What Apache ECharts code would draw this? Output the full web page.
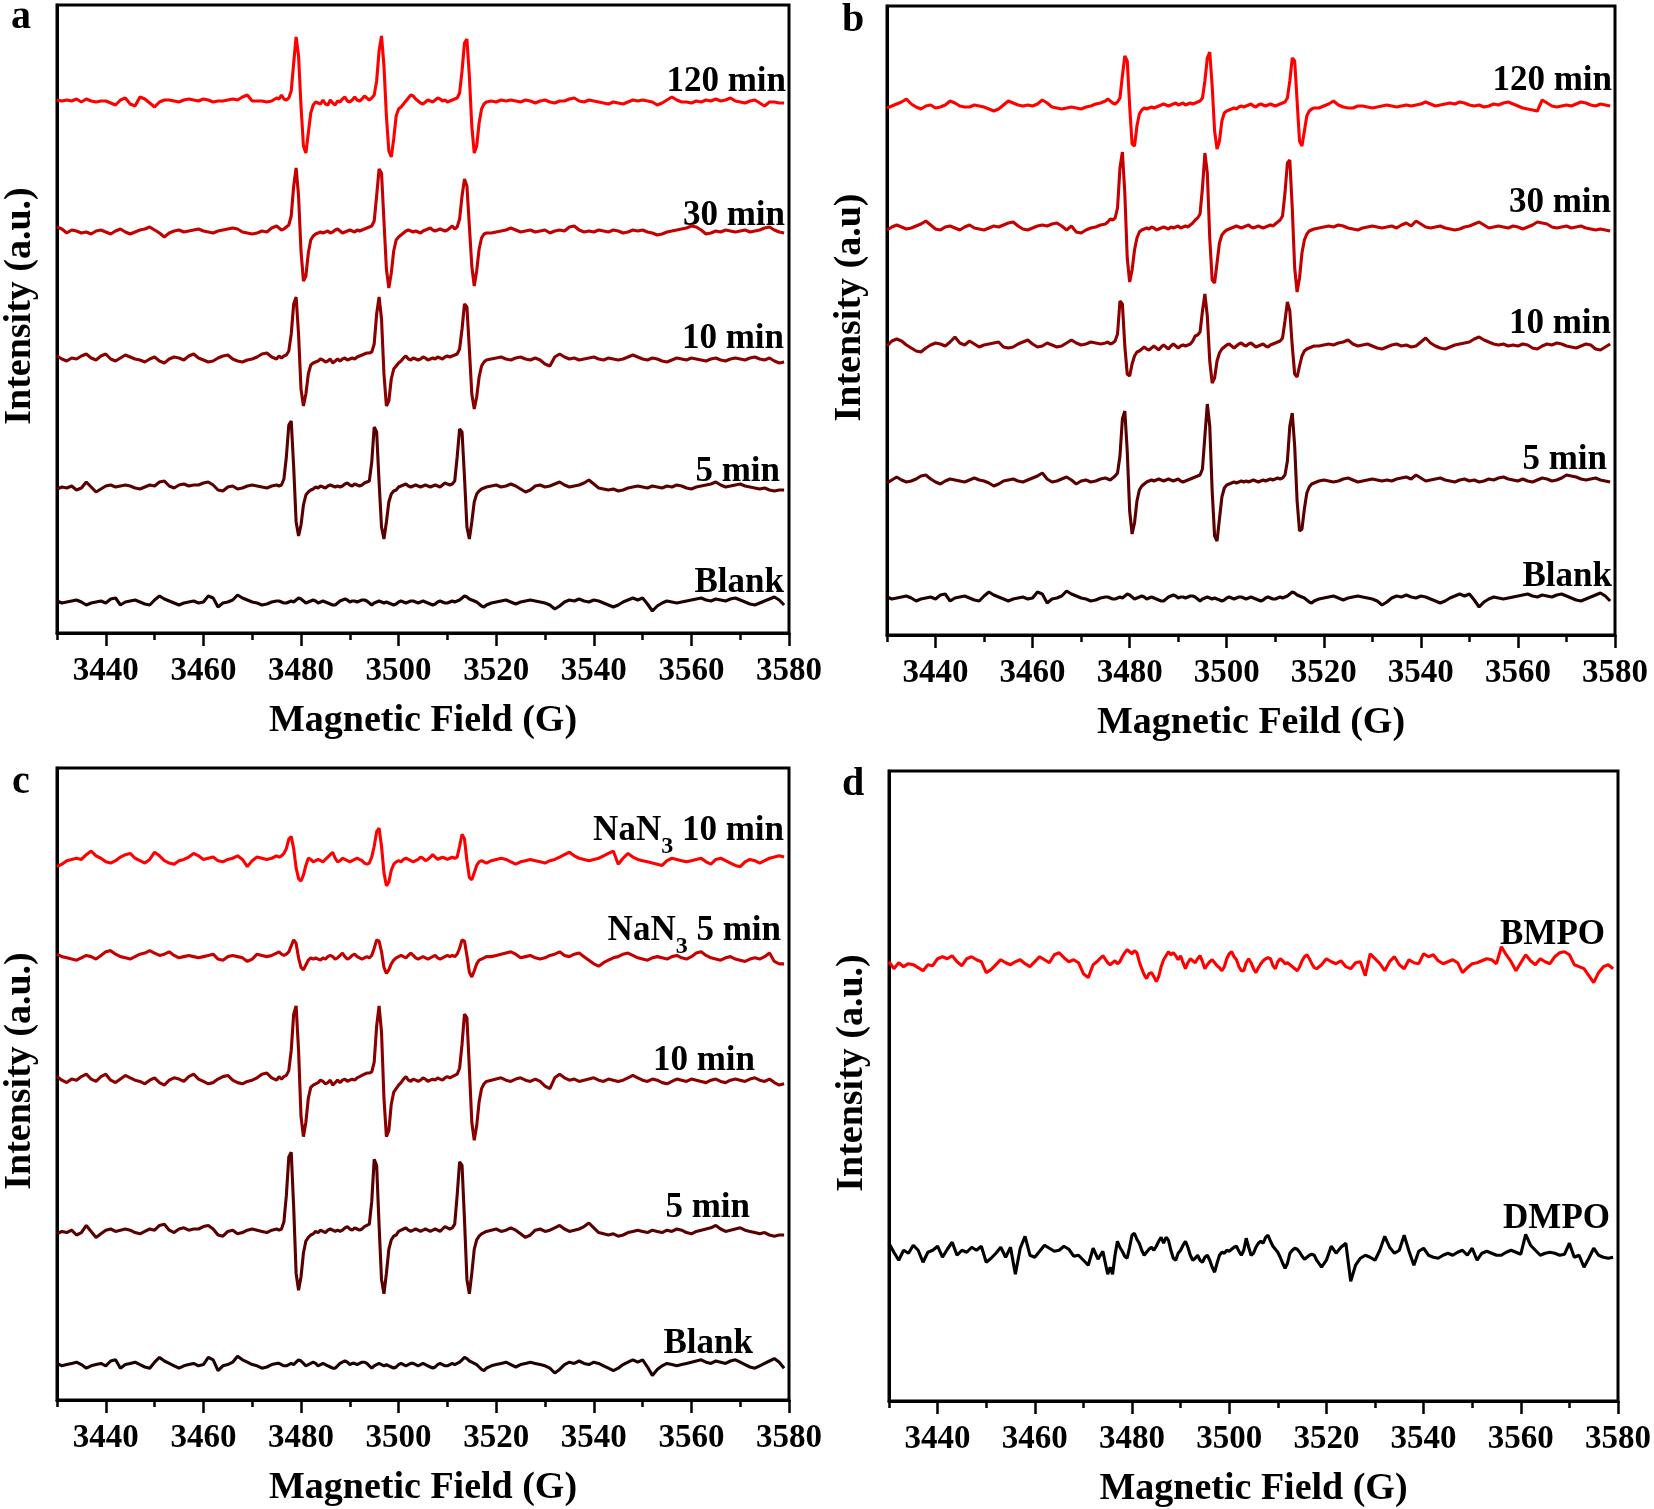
<!DOCTYPE html>
<html><head><meta charset="utf-8">
<script src="https://cdn.jsdelivr.net/npm/echarts@6/dist/echarts.min.js"></script>
<style>html,body{margin:0;padding:0;background:#fff}#chart{width:1654px;height:1509px}</style>
</head><body><div id="chart"></div>
<script>
// ---------- magnetic field sampling (G) ----------
const fieldL = [3430,3431,3432,3433,3434,3435,3436,3437,3438,3439,3440,3441,3442,3443,3444,3445,3446,3447,3448,3449,3450,3451,3452,3453,3454,3455,3456,3457,3458,3459,3460,3461,3462,3463,3464,3465,3466,3467,3468,3469,3470,3471,3472,3473,3474,3475];
const fieldM = [3475.5,3476,3476.5,3477,3477.5,3478,3478.5,3479,3479.5,3480,
 3480.5,3481,3481.5,3482,3482.5,3483,3483.5,3484,3484.5,3485,
 3485.5,3486,3486.5,3487,3487.5,3488,3488.5,3489,3489.5,3490,
 3490.5,3491,3491.5,3492,3492.5,3493,3493.5,3494,3494.5,3495,
 3495.5,3496,3496.5,3497,3497.5,3498,3498.5,3499,3499.5,3500,
 3500.5,3501,3501.5,3502,3502.5,3503,3503.5,3504,3504.5,3505,
 3505.5,3506,3506.5,3507,3507.5,3508,3508.5,3509,3509.5,3510,
 3510.5,3511,3511.5,3512,3512.5,3513,3513.5,3514,3514.5,3515,
 3515.5,3516,3516.5,3517,3517.5,3518];
const fieldR = [3519,3520,3521,3522,3523,3524,3525,3526,3527,3528,3529,3530,3531,3532,3533,3534,3535,3536,3537,3538,3539,3540,3541,3542,3543,3544,3545,3546,3547,3548,3549,3550,3551,3552,3553,3554,3555,3556,3557,3558,3559,3560,3561,3562,3563,3564,3565,3566,3567,3568,3569,3570,3571,3572,3573,3574,3575,3576,3577,3578,3579];

// ---------- tick labels ----------
const majorTicks = [3440,3460,3480,3500,3520,3540,3560,3580];
const minorTicks = [3430,3450,3470,3490,3510,3530,3550,3570];

// ---------- spectra (intensity, a.u., relative to each trace baseline) ----------
// panel a / c shared
const a120L = [1,0,1,0,2,-1,2,0,-1,0, 0,-2,-4,1,3,-3,-5,4,2,-2, -6,-1,1,1,0,-1,1,2,1,0, 2,1,-1,0,0,1,2,1,4,6, 0,0,0,-1,0,3];
const a120M = [2,6,2,1,3,10,38,64,45,-5, -45,-52,-32,-12,-4,-1,-2,-3,1,-3, -4,1,-2,-4,0,-1,2,4,0,-1, 1,4,1,0,2,5,3,1,3,6, 20,50,65,35,-15,-50,-56,-38,-15,-8, -6,-3,0,3,6,5,2,0,-2,-3, -1,1,0,-1,1,3,2,0,1,-1, 0,1,2,3,8,30,58,62,25,-25, -52,-45,-22,-8,-3,-1];
const a120R = [0,-1,1,0,1,0,-1,1,0,-2, 0,1,-1,-2,0,0,2,3,0,-1, 1,0,-1,-2,-3,-1,-2,-3,-1,1, 0,1,0,-1,-4,-2,1,4,1,-1, -1,-2,0,-1,1,0,2,0,1,3, 0,-1,-2,0,1,-2,-5,-1,-1,-2, -2];

const a30L = [4,2,-2,1,0,-2,-1,-3,0,1, -1,-3,0,2,-1,-3,-1,1,2,4, 1,-2,-6,-2,0,1,-1,0,1,2, 0,-1,-2,0,1,2,3,2,-1,-2, -3,-2,0,-1,3,5];
const a30M = [3,1,2,4,6,15,45,63,35,-20, -50,-45,-22,-9,-5,-3,-2,-1,-2,-1, 0,-2,-1,1,2,0,-2,-1,0,1, 0,-1,1,0,1,2,3,4,5,10, 35,62,58,10,-38,-57,-42,-20,-9,-6, -4,-2,0,1,0,-1,0,-1,-2,0, 1,2,3,1,0,1,2,1,0,1, 3,5,2,4,12,35,52,45,5,-35, -55,-40,-18,-7,-3,-2];
const a30R = [-2,-1,0,1,3,1,-1,0,1,-1, 0,1,-2,0,1,0,4,5,1,-1, 0,-1,1,0,-1,1,0,-2,-1,1, 0,1,-1,-2,-4,-3,-1,0,1,2, 3,5,4,1,-3,-2,0,-1,1,0, -1,0,1,-1,0,1,3,4,1,-1, -2];

const a10L = [3,0,-2,1,0,3,5,1,-1,3, 5,0,-2,1,4,2,0,-1,-3,0, 2,-2,-4,0,2,1,-1,3,5,1, -1,-3,-2,1,3,4,0,-2,-3,-1, 0,2,5,6,2,0];
const a10M = [3,1,3,4,8,25,55,62,25,-30, -47,-35,-15,-6,-4,-3,-2,0,-1,-3, -2,0,-4,-2,0,-2,0,1,-1,0, 1,0,2,3,4,5,6,6,7,15, 45,62,40,-15,-47,-42,-20,-10,-7,-4, -2,1,3,0,-1,1,0,-1,0,2, 1,-1,0,1,0,2,1,0,2,3, 2,3,4,5,10,30,55,52,10,-35, -50,-38,-18,-7,-3,-1];
const a10R = [0,1,2,0,-1,1,2,0,-1,1, -1,-5,-7,2,5,2,0,1,-1,0, 1,2,0,-1,1,0,-1,0,2,4, 2,0,-1,1,0,-2,-3,-1,1,0, -1,1,0,-1,-2,0,1,-1,-2,0, 1,0,-1,1,2,0,-1,1,-2,-4, -3];

const a5L = [-2,0,-1,1,-3,-1,5,0,-5,-2, 1,2,0,1,2,1,-1,-2,0,2, 1,5,6,1,-1,2,3,1,2,2, 4,5,2,-3,-4,0,1,-2,-1,1, 2,1,0,-1,1,2];
const a5M = [1,2,8,30,62,66,20,-35,-49,-38, -18,-8,-5,-3,-2,0,-1,1,0,-1, 1,2,1,0,1,0,1,3,4,2, 1,3,2,1,2,4,5,6,25,60, 55,5,-40,-52,-35,-15,-7,-4,-3,0, 1,2,3,1,0,1,2,1,0,1, 2,1,0,1,2,1,0,2,4,3, 2,3,6,30,58,55,10,-40,-52,-35, -15,-7,-4,-2,-1,0];
const a5R = [1,2,0,1,3,1,-2,-5,-3,1, 2,0,1,3,5,2,0,1,2,4, 7,3,-1,-2,-3,-2,-4,-3,-1,0, 1,0,-1,1,0,-1,1,0,2,1, -1,-2,0,1,2,3,5,2,0,1, 2,3,1,0,-1,-2,-1,-3,-4,-3, -3];

const blankL = [1,-1,0,1,2,0,-3,-1,0,1, -1,3,4,-3,0,1,2,0,-2,-3, 2,6,3,1,-1,-3,-1,0,1,-1, 0,6,4,-5,-1,0,2,7,4,2, 0,-1,-3,-2,0,1];
const blankM = [1,0,-1,-1,0,1,0,2,4,3, 1,-1,0,1,2,1,-1,0,1,0, -1,-2,-3,-3,-1,1,2,3,2,0, 1,1,0,1,2,2,1,-1,-3,-1, 0,1,0,-1,0,-1,-2,-3,-2,0, 1,0,-1,0,1,1,0,-1,0,1, 0,-1,-2,-3,-2,0,1,0,-1,-1, 0,1,0,1,2,4,6,5,3,2, 1,0,-2,-4,-5,-3];
const blankR = [-1,0,1,2,0,-2,0,1,2,1, 0,-1,-3,-7,-4,0,2,1,3,1, 0,2,1,-1,-3,-5,-3,0,2,4, 2,4,-2,-9,-4,-1,1,0,-1,0, 1,2,3,4,2,1,3,2,1,3, 4,2,0,-2,-3,-1,1,3,5,2, -3];

// panel b
const b120L = [-2,0,2,4,7,2,-1,-3,0,1, -2,-1,1,5,3,0,-1,-1,1,0, -1,-3,-5,-3,1,5,3,1,0,1, 0,2,6,3,-1,-2,-3,-2,-1,-2, -3,-1,0,2,3,5];
const b120M = [7,5,3,2,4,8,30,50,45,0, -38,-40,-20,-8,-4,-2,-3,-2,-1,-2, -1,0,1,2,1,0,1,2,3,1, 2,3,1,2,3,2,3,4,5,8, 25,48,54,20,-25,-43,-35,-15,-7,-5, -4,-3,-2,-3,-1,0,-1,0,1,2, 0,-1,1,2,1,0,1,2,1,0, 1,2,3,4,8,25,48,45,5,-35, -40,-25,-10,-5,-3,-2];
const b120R = [-2,0,2,5,1,-1,-2,-2,0,0, -1,-2,-1,0,1,0,-1,0,1,0, 1,2,4,2,0,1,2,3,2,4, 3,1,0,1,-1,0,2,1,3,4, 2,0,-2,-3,-4,-5,6,3,0,-1, 0,1,0,2,4,3,1,0,2,1, 0];

const b30L = [-2,1,3,1,-1,0,2,4,7,3, -1,-2,1,2,0,-2,1,3,0,-1, -2,0,2,1,3,5,6,2,-1,-2, 0,2,3,2,4,5,2,-2,2,-4, -5,-2,0,1,3,4];
const b30M = [6,9,8,10,20,60,76,35,-30,-54, -42,-22,-10,-4,-2,-1,0,-1,1,0, -2,-1,0,1,0,-1,1,0,1,2, 0,1,2,1,3,5,8,10,14,40, 75,55,-10,-52,-55,-35,-15,-7,-4,-2, -1,0,1,2,1,0,1,2,3,1, 0,1,2,1,0,1,2,3,2,4, 6,8,12,35,65,68,20,-40,-64,-50, -25,-12,-6,-3,-2,-1];
const b30R = [0,1,2,1,3,2,0,-1,-2,0, 1,2,1,0,1,2,0,3,5,2, 7,4,1,0,1,2,0,-1,-2,-1, 1,2,4,6,3,0,1,2,1,0, 2,1,-1,1,3,6,5,4,1,0, 1,2,0,1,2,0,-1,-2,-1,-2, -3];

const b10L = [0,5,7,5,1,-2,-5,-6,-2,1, 3,2,0,4,9,3,1,5,2,-1, 1,2,3,4,-1,-2,-1,2,4,6, 2,-1,0,3,1,-1,0,3,6,3, 1,2,4,3,2,3];
const b10M = [4,2,3,5,12,45,42,0,-28,-30, -18,-10,-6,-5,-3,-1,-3,-4,-2,0, -2,-4,-1,1,-1,-3,0,2,0,-2, 0,1,0,1,2,5,10,11,14,35, 52,30,-15,-37,-32,-15,-7,-3,-1,1, 2,0,-2,0,2,3,1,0,2,3, 1,-1,0,1,2,0,-1,1,2,3, 4,5,8,25,44,35,0,-28,-31,-20, -10,-5,-3,-2,-1,0];
const b10R = [0,1,2,1,3,4,6,2,0,1, 2,0,-2,-3,-1,1,2,0,1,-1, 0,4,8,3,0,-2,-3,-1,1,2, 3,4,7,9,6,4,2,1,2,0, 1,0,2,1,-2,-3,0,2,1,3, 2,0,-1,-2,0,2,1,-3,-4,-1, 2];

const b5L = [-2,1,4,1,-1,0,2,5,6,2, -1,-3,0,2,1,0,-1,1,3,1, 0,-2,-5,-3,0,1,2,0,-1,1, 3,5,8,2,-1,0,2,4,1,-3, 0,1,-1,0,2,3];
const b5M = [2,1,3,5,8,25,62,70,30,-30, -53,-42,-20,-9,-5,-3,-1,0,1,0, 1,2,1,0,1,2,1,0,1,2, 0,-1,0,1,2,3,4,5,6,12, 45,77,55,-10,-55,-60,-38,-16,-7,-4, -3,-2,-1,-2,-1,0,-1,0,-1,0, 1,0,-1,0,1,0,1,2,1,2, 3,2,3,6,20,55,68,35,-20,-50, -48,-28,-12,-6,-3,-2];
const b5R = [0,1,0,-1,0,2,3,1,-1,0, 1,2,1,0,1,0,2,3,4,2, 6,3,0,1,2,3,1,0,-1,1, 2,0,1,-1,0,2,1,3,4,2, 1,0,2,0,-1,1,3,2,0,1, 3,6,5,4,2,1,2,3,1,0, -1];

// panel c (NaN3 quenched)
const cN10L = [-5,-3,0,1,2,1,5,8,4,2, -1,-2,0,3,5,6,2,0,-2,1, 7,4,0,-2,-3,0,1,3,6,4, 1,2,3,0,-1,1,2,4,1,-5, 0,3,2,1,2,4];
const cN10M = [3,4,6,10,18,20,10,-6,-15,-17, -12,-4,2,1,-1,0,1,0,-1,1, 3,5,7,2,-1,0,2,1,0,-1, 0,1,2,1,0,-2,-3,-2,3,12, 24,27,12,-10,-21,-18,-8,-3,-1,0, -1,1,2,1,0,-1,0,1,3,2, 0,1,3,5,3,1,2,3,2,1, 2,3,2,3,12,22,18,0,-14,-16, -10,-4,-1,0,-1,-2];
const cN10R = [0,1,2,1,-1,-3,-1,0,1,0, -1,-2,0,1,3,5,7,4,2,1, 0,1,2,4,6,8,-3,2,6,3, 1,0,-1,-2,-3,-4,0,2,1,0, -1,0,1,2,-1,-3,1,2,0,-2, -4,-5,-1,1,0,-2,0,2,3,4, 3];

const cN5L = [3,1,0,-1,-2,0,2,1,-1,2, 5,6,3,1,0,-1,1,3,4,6, 4,2,3,5,2,0,1,2,1,0, 1,2,3,-1,-2,1,2,1,0,-3, -1,3,2,1,2,4];
const cN5M = [5,3,2,3,5,10,15,12,0,-8, -10,-6,-2,0,-1,0,-1,-2,0,-1, 1,2,1,-1,0,2,4,1,-1,0, 2,3,1,0,-1,0,1,0,2,8, 15,14,5,-8,-13,-10,-5,-2,0,1, 2,1,0,2,4,2,0,-1,0,1, 0,-1,0,1,2,0,-1,0,1,2, 1,2,1,3,8,15,14,2,-12,-16, -11,-5,-2,-1,0,1];
const cN5R = [1,2,3,4,5,3,0,1,2,0, -1,0,2,3,5,2,1,3,4,1, -2,-5,-7,-4,-2,0,1,3,4,2, 0,-1,-2,0,1,0,-1,1,2,0, -1,1,4,5,2,0,-1,-2,0,1, -1,-2,-3,-1,0,-1,1,4,-3,-5, -5];

// panel d
const bmpoL = [3,-4,2,-2,1,0,-3,-6,0,-1, 6,8,6,9,3,-1,6,8,5,3, -8,-5,0,5,2,0,3,5,1,-2, 3,8,5,2,10,12,7,3,5,2, -9,-13,0,4,9,2];
const bmpoM = [0,2,4,1,3,8,12,15,13,11, 14,12,3,-4,-10,-14,-9,-8,-12,-17, -12,-2,5,9,13,10,12,9,5,9, 2,-4,2,6,4,2,6,9,3,-4, 0,3,5,2,-1,-3,-6,-2,6,11, 13,8,5,-2,-6,-6,2,6,2,-4, -8,-3,1,4,6,7,6,-1,-4,3, 6,4,1,2,0,-2,-4,-6,-2,4, 8,10,6,1,-3,-4];
const bmpoR = [0,6,3,1,4,-2,-4,2,3,-11, 11,6,1,-6,3,8,0,-4,5,2, 1,11,8,10,4,1,3,5,2,-8, -3,1,2,4,6,5,1,18,10,3, -6,2,10,4,0,6,3,1,8,12, 13,10,0,-2,-4,-11,-18,-8,-2,0, -4];

const dmpoL = [12,3,-5,5,2,10,5,-7,3,5, 9,-2,6,13,0,5,3,8,5,9, -7,-3,2,8,-2,8,-19,7,19,0, -2,4,10,7,4,5,9,6,-1,0, -5,-10,7,-4,4,-19];
const dmpoM = [-12,-19,0,14,8,4,-1,-3,8,20, 22,16,12,5,0,3,6,8,5,9, 14,18,12,18,15,5,-3,-5,2,5, 10,14,8,0,-5,-3,0,-5,-7,-2, 0,-5,-12,-17,-8,0,3,2,5,4, 6,8,9,4,0,5,17,8,0,2, 8,12,14,12,18,20,14,9,6,3, -2,-8,-13,-8,2,5,7,6,3,-1, -4,-2,0,1,0,-5];
const dmpoR = [-12,-5,9,2,8,12,-26,-10,-3,0, -2,-5,5,19,8,2,5,20,4,-10, 4,7,0,-2,-3,0,2,0,3,5, 0,7,-5,2,4,2,0,0,3,5, 3,1,21,10,5,0,2,3,2,0, 1,12,-2,0,-12,-3,7,0,-2,-3, -2];

// ---------- trace names & baselines ----------
const aNames = ['120 min','30 min','10 min','5 min','Blank'];
const aOffsets = [532, 402, 274, 146, 31];
const bNames = ['120 min','30 min','10 min','5 min','Blank'];
const bOffsets = [529, 407, 289, 154, 37];
const cNames = ['NaN3 10 min','NaN3 5 min','10 min','5 min','Blank'];
const cOffsets = [449.5, 368.5, 266.5, 140.5, 29.5];
const dNames = ['BMPO','DMPO'];
const dOffsets = [437, 146];

// ---------- assembly ----------
const field = fieldL.concat(fieldM, fieldR);
function spec(L, M, R, name) {
  if (L.length !== fieldL.length || M.length !== fieldM.length || R.length !== fieldR.length)
    throw new Error('length mismatch in ' + name + ': ' + L.length + ',' + M.length + ',' + R.length);
  return L.concat(M, R);
}
const S = {
  a120: spec(a120L, a120M, a120R, 'a120'), a30: spec(a30L, a30M, a30R, 'a30'),
  a10: spec(a10L, a10M, a10R, 'a10'), a5: spec(a5L, a5M, a5R, 'a5'),
  blank: spec(blankL, blankM, blankR, 'blank'),
  b120: spec(b120L, b120M, b120R, 'b120'), b30: spec(b30L, b30M, b30R, 'b30'),
  b10: spec(b10L, b10M, b10R, 'b10'), b5: spec(b5L, b5M, b5R, 'b5'),
  cN10: spec(cN10L, cN10M, cN10R, 'cN10'), cN5: spec(cN5L, cN5M, cN5R, 'cN5'),
  bmpo: spec(bmpoL, bmpoM, bmpoR, 'bmpo'), dmpo: spec(dmpoL, dmpoM, dmpoR, 'dmpo')
};

// ---------- styling / layout ----------
const FONT = '"Liberation Serif","Times New Roman",serif';
const shade = ['#ff0000', '#c40000', '#8a0000', '#5a0000', '#1e0000'];
const panels = [
  { grid:{left:57, top:5, width:732, height:628}, yMax:628, xTitle:'Magnetic Field (G)', yTitle:'Intensity (a.u.)',
    traces:[S.a120,S.a30,S.a10,S.a5,S.blank], offsets:aOffsets, names:aNames, colors:shade,
    letter:{t:'a', x:21, y:18},
    labels:[[786,82],[785,216],[784,339],[780,472],[784,583]] },
  { grid:{left:887, top:6, width:728, height:629}, yMax:629, xTitle:'Magnetic Feild (G)', yTitle:'Intensity (a.u)',
    traces:[S.b120,S.b30,S.b10,S.b5,S.blank], offsets:bOffsets, names:bNames, colors:shade,
    letter:{t:'b', x:853, y:21},
    labels:[[1612,81],[1611,203],[1611,324],[1607,460],[1612,577]] },
  { grid:{left:55, top:768, width:734, height:632}, yMax:526.7, xTitle:'Magnetic Field (G)', yTitle:'Intensity (a.u.)',
    traces:[S.cN10,S.cN5,S.a10,S.a5,S.blank], offsets:cOffsets, names:cNames, colors:shade,
    letter:{t:'c', x:21, y:783},
    labels:[[784,825],[781,925],[755,1061],[750,1208],[753,1344]] },
  { grid:{left:889, top:771, width:731, height:631}, yMax:631, xTitle:'Magnetic Field (G)', yTitle:'Intensity (a.u.)',
    traces:[S.bmpo,S.dmpo], offsets:dOffsets, names:dNames, colors:['#ff0000','#000000'],
    letter:{t:'d', x:853, y:785},
    labels:[[1605,935],[1610,1219]] }
];

const option = { animation:false, backgroundColor:'#ffffff', grid:[], xAxis:[], yAxis:[], series:[], graphic:[] };
const txt = {fontFamily:FONT, fontWeight:'bold', color:'#000'};

panels.forEach((p, k) => {
  option.grid.push(Object.assign({show:true, borderColor:'#000', borderWidth:3, backgroundColor:'transparent'}, p.grid));
  option.xAxis.push({
    gridIndex:k, type:'value', min:3430, max:3580, position:'bottom',
    name:p.xTitle, nameLocation:'middle', nameGap:69,
    nameTextStyle:Object.assign({fontSize:38}, txt),
    axisLine:{show:true, onZero:false, lineStyle:{color:'#000', width:3}},
    axisTick:{show:true, inside:false, length:13, customValues:majorTicks, lineStyle:{color:'#000', width:2.5}},
    axisLabel:Object.assign({show:true, customValues:majorTicks, margin:22, fontSize:33, formatter:v => String(v)}, txt),
    splitLine:{show:false}
  });
  option.xAxis.push({
    gridIndex:k, type:'value', min:3430, max:3580, position:'bottom',
    axisLine:{show:false}, axisLabel:{show:false}, splitLine:{show:false},
    axisTick:{show:true, inside:false, length:7, customValues:minorTicks, lineStyle:{color:'#000', width:2.5}}
  });
  option.yAxis.push({
    gridIndex:k, type:'value', min:0, max:p.yMax, position:'left',
    name:p.yTitle, nameLocation:'middle', nameGap:18, nameRotate:90,
    nameTextStyle:Object.assign({fontSize:38, padding:[0,0,0,26]}, txt),
    axisLine:{show:true, onZero:false, lineStyle:{color:'#000', width:3}},
    axisTick:{show:false}, axisLabel:{show:false}, splitLine:{show:false}
  });
  p.traces.forEach((vals, j) => {
    const off = p.offsets[j];
    option.series.push({
      type:'line', name:p.names[j], xAxisIndex:2*k, yAxisIndex:k,
      data: field.map((x, i) => [x, off + vals[i]]),
      showSymbol:false, symbol:'none', silent:true,
      lineStyle:{color:p.colors[j], width:3.1}, itemStyle:{color:p.colors[j]}
    });
    const [lx, ly] = p.labels[j];
    const nm = p.names[j];
    if (nm.indexOf('NaN3') === 0) {
      option.graphic.push({type:'text', x:lx, y:ly + 5.5, silent:true, style:{
        text:'{m|NaN}{s|3}{m|' + nm.slice(4) + '}', align:'right', verticalAlign:'middle', fill:'#000',
        rich:{
          m:{fontFamily:FONT, fontWeight:'bold', fontSize:35, lineHeight:35, verticalAlign:'top', fill:'#000'},
          s:{fontFamily:FONT, fontWeight:'bold', fontSize:24, lineHeight:24, padding:[22,0,0,0], verticalAlign:'top', fill:'#000'}
        }}});
    } else {
      option.graphic.push({type:'text', x:lx, y:ly, silent:true, style:{
        text:nm, font:'bold 35px ' + FONT, fill:'#000', align:'right', verticalAlign:'middle'}});
    }
  });
  option.graphic.push({type:'text', x:p.letter.x, y:p.letter.y, silent:true, style:{
    text:p.letter.t, font:'bold 40px ' + FONT, fill:'#000', align:'center', verticalAlign:'middle'}});
});

const chart = echarts.init(document.getElementById('chart'), null, {renderer:'canvas', width:1654, height:1509});
chart.setOption(option);
</script>
</body></html>
